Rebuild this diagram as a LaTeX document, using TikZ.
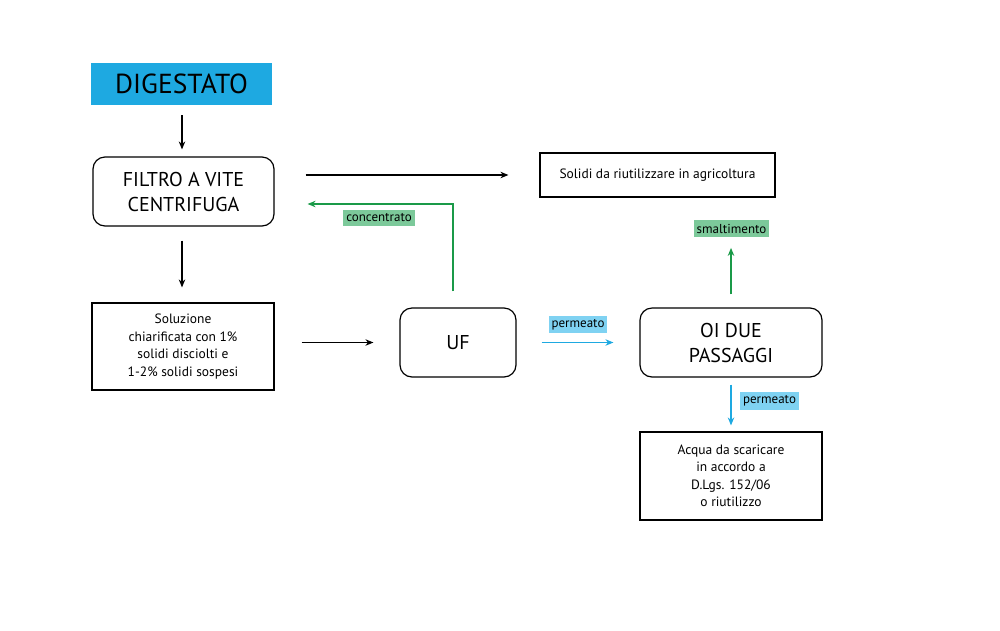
\documentclass[tikz,border=0pt]{standalone}
\usepackage{fontspec}
\setmainfont{PT Sans}
\usetikzlibrary{arrows.meta}
\definecolor{cyanbox}{HTML}{1EA9E1}
\definecolor{cyanlab}{HTML}{7FD2F2}
\definecolor{greenln}{HTML}{1A9A48}
\definecolor{greenlab}{HTML}{7CC99A}

\begin{document}
\begin{tikzpicture}[x=1pt,y=-1pt,
  >={Stealth[length=8pt,width=6.5pt]},
  roundbox/.style={draw,line width=1.2pt,rounded corners=12pt,align=center,
    font=\fontsize{20}{25}\selectfont},
  flatbox/.style={draw,line width=1.2pt,align=center,
    font=\fontsize{13.5}{17.5}\selectfont},
  tag/.style={inner xsep=3pt,inner ysep=3.5pt,font=\fontsize{13}{14}\selectfont},
  blackarr/.style={->,line width=1.2pt},
  bluearr/.style={->,line width=1.2pt,draw=cyanbox,color=cyanbox},
  greenarr/.style={->,line width=1.2pt,draw=greenln,color=greenln}]
\useasboundingbox (0,0) rectangle (1000,630);
% boxes
\node[fill=cyanbox,minimum width=181pt,minimum height=42pt,
  font=\fontsize{27.5}{29}\selectfont] (digestato) at (181.5,84) {DIGESTATO};
\node[roundbox,minimum width=181pt,minimum height=69pt] (filtro) at (183.5,191.5)
  {FILTRO A VITE\\CENTRIFUGA};
\node[flatbox,minimum width=235pt,minimum height=44pt] (solidi) at (657.5,175)
  {Solidi da riutilizzare in agricoltura};
\node[flatbox,minimum width=182pt,minimum height=87pt] (soluzione) at (183,346.5)
  {Soluzione\\chiarificata con 1\%\\solidi disciolti e\\1-2\% solidi sospesi};
\node[roundbox,minimum width=116pt,minimum height=69pt] (uf) at (458,342.5) {UF};
\node[roundbox,minimum width=182pt,minimum height=69pt] (oi) at (731,342.5)
  {OI DUE\\PASSAGGI};
\node[flatbox,minimum width=182pt,minimum height=88pt] (acqua) at (731,476)
  {Acqua da scaricare\\in accordo a\\D.Lgs. 152/06\\o riutilizzo};
% labels
\node[tag,fill=greenlab] (conc) at (379,218) {concentrato};
\node[tag,fill=greenlab] (smalt) at (731.5,228.5) {smaltimento};
\node[tag,fill=cyanlab] (perm1) at (578,324.5) {permeato};
\node[tag,fill=cyanlab] (perm2) at (769.5,401) {permeato};
\coordinate (cbend) at (453,204);
% arrows
\draw[blackarr,shorten <=10pt,shorten >=7pt] (digestato.south -| 182,0) -- (filtro.north -| 182,0);
\draw[blackarr,shorten <=31pt,shorten >=31pt] (filtro.east |- solidi.west) -- (solidi.west);
\draw[blackarr,shorten <=14pt,shorten >=15pt] (filtro.south -| 182,0) -- (soluzione.north -| 182,0);
\draw[blackarr,shorten <=27pt,shorten >=26pt] (soluzione.east |- uf.west) -- (uf.west);
\draw[bluearr,shorten <=25pt,shorten >=26pt] (uf.east) -- (oi.west);
\draw[greenarr,shorten <=16pt,shorten >=33pt] (uf.north -| cbend) |- (filtro.east |- cbend);
\draw[greenarr,shorten <=13pt,shorten >=11pt] (oi.north) -- (smalt.south -| oi.north);
\draw[bluearr,shorten <=7pt,shorten >=6pt] (oi.south) -- (acqua.north);
\end{tikzpicture}
\end{document}
